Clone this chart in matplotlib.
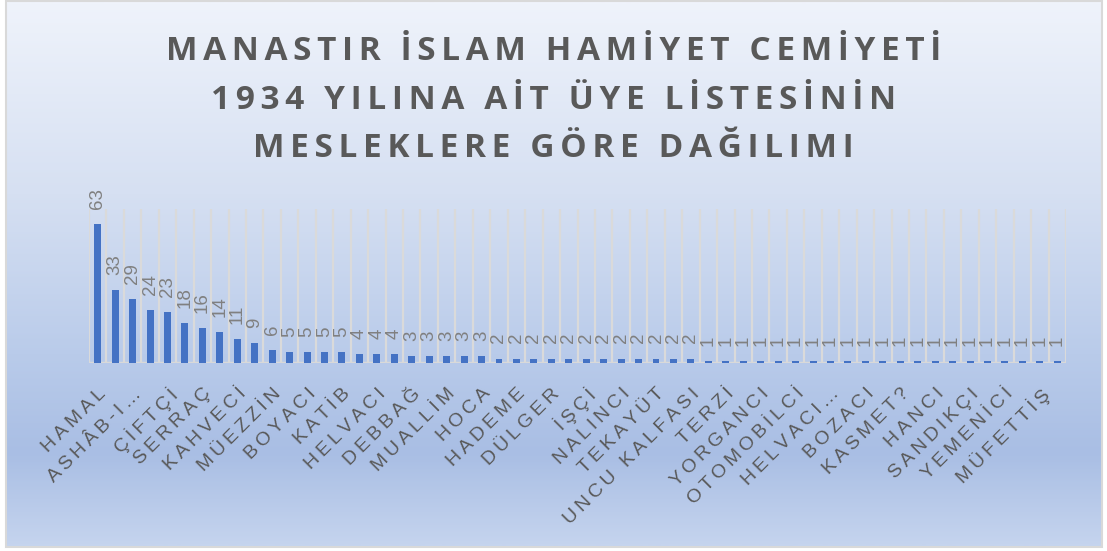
import matplotlib
matplotlib.use('Agg')
import matplotlib.pyplot as plt
import numpy as np
from matplotlib.colors import LinearSegmentedColormap
from matplotlib.patches import Rectangle

title_lines = ['MANASTIR İSLAM HAMİYET CEMİYETİ',
               '1934 YILINA AİT ÜYE LİSTESİNİN',
               'MESLEKLERE GÖRE DAĞILIMI']

values = [63, 33, 29, 24, 23, 18, 16, 14, 11, 9, 6,
          5, 5, 5, 5, 4, 4, 4, 3, 3, 3, 3, 3,
          2, 2, 2, 2, 2, 2, 2, 2, 2, 2, 2, 2,
          1, 1, 1, 1, 1, 1, 1, 1, 1, 1, 1, 1, 1, 1, 1, 1, 1, 1, 1, 1, 1]

# only every second category name is visible on the axis
shown_labels = ['HAMAL', 'ASHÂB-I…', 'ÇİFTÇİ', 'SERRAÇ', 'KAHVECİ', 'MÜEZZİN',
                'BOYACI', 'KATİB', 'HELVACI', 'DEBBAĞ', 'MUALLİM', 'HOCA',
                'HADEME', 'DÜLGER', 'İŞÇİ', 'NALINCI', 'TEKAYÜT', 'UNCU KALFASI',
                'TERZİ', 'YORGANCI', 'OTOMOBİLCİ', 'HELVACI…', 'BOZACI', 'KASMET?',
                'HANCI', 'SANDIKÇI', 'YEMENİCİ', 'MÜFETTİŞ']


def spaced(s, sp='\u2009'):
    return sp.join(s)


W, H = 1107, 551
fig = plt.figure(figsize=(W / 100, H / 100), dpi=100)

# chart area background gradient
bg = fig.add_axes([0, 0, 1, 1], zorder=-5)
bg.set_xlim(0, W)
bg.set_ylim(H, 0)
bg.axis('off')
cmap = LinearSegmentedColormap.from_list('bg', [
    (0.0, '#eff3fb'), (0.35, '#d6e0f2'), (0.65, '#b9cbea'),
    (0.83, '#a9bee4'), (1.0, '#c5d4ee')])
grad = np.linspace(0, 1, 300).reshape(-1, 1)
bg.imshow(grad, cmap=cmap, aspect='auto', extent=(6, 1102, 547, 1), zorder=0)
bg.add_patch(Rectangle((6, 1), 1096, 546, fill=False, edgecolor='#d9d9d9', lw=1.5, zorder=1))

fig.text(0.5, 1 - 100 / H, '\n'.join(spaced(t, '\u2006') for t in title_lines),
         ha='center', va='center', fontsize=24,
         fontweight='bold', family=['Open Sans', 'DejaVu Sans'], color='#595959',
         linespacing=1.63)

ax = fig.add_axes([89 / W, 1 - 363 / H, 977 / W, 154 / H])
ax.patch.set_alpha(0)
x = np.arange(len(values))
ax.bar(x, values, width=0.4, color='#4472c4', zorder=3)
ax.set_xlim(-0.5, len(values) - 0.5)
ax.set_ylim(0, 70)

for b in np.arange(-0.5, len(values), 1.0):
    ax.axvline(b, color='#dadada', lw=1.6, zorder=1)
ax.axhline(0, color='#d9d9d9', lw=2.5, zorder=2)

for xi, v in zip(x, values):
    ax.annotate(str(v), (xi, v), xytext=(0, 11), textcoords='offset points',
                rotation=90, ha='center', va='bottom', fontsize=13.5,
                family=['Liberation Sans', 'DejaVu Sans'], color='#808080')

for s in ax.spines.values():
    s.set_visible(False)
ax.set_yticks([])
ax.set_xticks(x[::2])
ax.set_xticklabels([spaced(l) for l in shown_labels], rotation=45, ha='right',
                   rotation_mode='anchor', fontsize=14,
                   family=['Liberation Sans', 'DejaVu Sans'], color='#595959')
ax.tick_params(axis='x', length=0, pad=16)

fig.savefig('out.png', dpi=100)
